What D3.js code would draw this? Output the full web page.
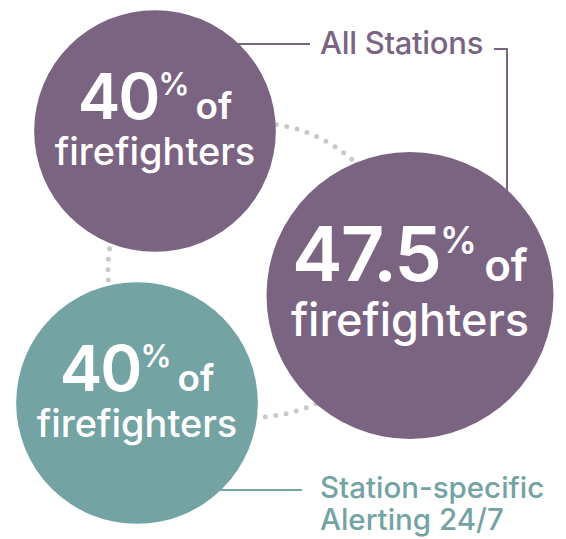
<!DOCTYPE html>
<html>
<head>
<meta charset="utf-8">
<script src="https://cdn.jsdelivr.net/npm/d3@7"></script>
<style>
  html, body { margin: 0; padding: 0; background: #fff; }
  #chart { width: 566px; height: 539px; }
  text { font-family: Inter, "Open Sans", "Liberation Sans", sans-serif; }
</style>
</head>
<body>
<div id="chart"></div>
<script>
// values
var circleNames = ['All Stations (a)', 'All Stations (b)', 'Station-specific Alerting 24/7'];
var percents = [40, 47.5, 40];
var groupOf = [0, 0, 1];
var groupLabels = [['All Stations'], ['Station-specific', 'Alerting 24/7']];
var lineWords = ['of', 'firefighters'];

// layout only
var dimension = {width: 566, height: 539};
var centers = [[155, 131], [410, 295.5], [137, 403]];
var ring = {cx: 255, cy: 270, r: 147};
var colors = ['#7b6482', '#74a3a3'];

var createChart = function createChart() {
    var svg = d3.select('#chart').append('svg')
                .attr('width', dimension.width)
                .attr('height', dimension.height);

    var r = d3.scaleLinear()
              .domain([0, d3.max(percents)])
              .range([0, 143.5]);

    // dotted ring behind the circles
    svg.append('circle')
       .attr('cx', ring.cx).attr('cy', ring.cy).attr('r', ring.r)
       .attr('fill', 'none')
       .attr('stroke', '#c9c9c9')
       .attr('stroke-width', 5)
       .attr('stroke-linecap', 'round')
       .attr('stroke-dasharray', '0 10.5');

    createLeaders(svg, r);

    var g = svg.selectAll('g.bubble')
               .data(percents)
               .enter().append('g')
               .attr('class', 'bubble')
               .attr('transform', function(d, i) {
                   return 'translate(' + centers[i][0] + ',' + centers[i][1] + ')';
               });

    g.append('circle')
     .attr('r', function(d) { return r(d); })
     .attr('fill', function(d, i) { return colors[groupOf[i]]; });

    var first = g.append('text')
                 .attr('text-anchor', 'middle')
                 .attr('fill', '#fff')
                 .attr('font-weight', 600)
                 .attr('y', function(d) { return -0.1 * r(d); });

    var k = function(d) { return r(d) / 121; };

    first.append('tspan')
         .attr('font-size', function(d) { return 64 * k(d); })
         .attr('letter-spacing', -2)
         .text(function(d) { return d; });
    first.append('tspan')
         .attr('font-size', function(d) { return 31 * k(d); })
         .attr('dy', function(d) { return -24 * k(d); })
         .text('%');
    first.append('tspan')
         .attr('font-size', function(d) { return 37 * k(d); })
         .attr('dy', function(d) { return 24 * k(d); })
         .attr('dx', function(d) { return 6 * k(d); })
         .text(lineWords[0]);

    g.append('text')
     .attr('text-anchor', 'middle')
     .attr('fill', '#fff')
     .attr('font-weight', 500)
     .attr('y', function(d) { return 0.28 * r(d); })
     .attr('font-size', function(d) { return 38 * k(d); })
     .text(lineWords[1]);
}

var createLeaders = function createLeaders(svg, r) {
    var c0 = centers[0], c1 = centers[1], c2 = centers[2];
    var r0 = r(percents[0]), r1 = r(percents[1]), r2 = r(percents[2]);

    // All Stations bracket
    var y0 = 44, xEdge0 = c0[0] + Math.sqrt(r0 * r0 - Math.pow(y0 - c0[1], 2));
    var xv = 507, yEdge1 = c1[1] - Math.sqrt(r1 * r1 - Math.pow(xv - c1[0], 2));
    svg.append('path')
       .attr('d', 'M' + (xEdge0 - 4) + ',' + y0 + 'H310')
       .attr('stroke', colors[0]).attr('stroke-width', 2).attr('fill', 'none');
    svg.append('path')
       .attr('d', 'M494,49H' + xv + 'V' + (yEdge1 + 4))
       .attr('stroke', colors[0]).attr('stroke-width', 2).attr('fill', 'none');

    svg.append('text')
       .attr('x', 320).attr('y', 54)
       .attr('fill', colors[0])
       .attr('font-size', 31)
       .attr('font-weight', 500)
       .attr('letter-spacing', -0.3)
       .text(groupLabels[0][0]);

    // Station-specific label
    var y2 = 490, xEdge2 = c2[0] + Math.sqrt(r2 * r2 - Math.pow(y2 - c2[1], 2));
    svg.append('path')
       .attr('d', 'M' + (xEdge2 - 4) + ',' + y2 + 'H302')
       .attr('stroke', colors[1]).attr('stroke-width', 2).attr('fill', 'none');

    svg.append('text')
       .attr('fill', colors[1])
       .attr('font-size', 29.5)
       .attr('font-weight', 500)
       .selectAll('tspan')
       .data(groupLabels[1])
       .enter().append('tspan')
       .attr('x', 320)
       .attr('y', function(d, i) { return 498 + i * 32; })
       .text(function(d) { return d; });
}

createChart();
</script>
</body>
</html>
